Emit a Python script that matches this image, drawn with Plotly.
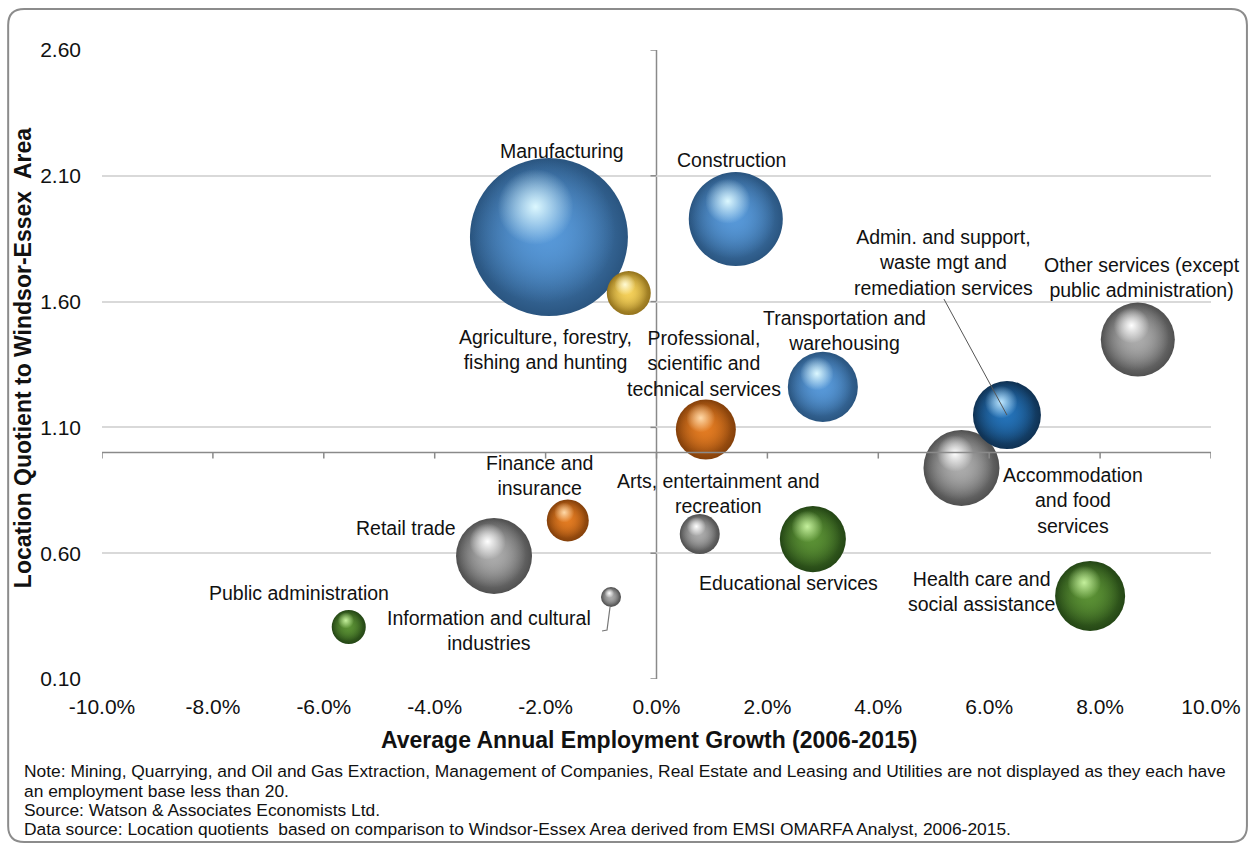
import math
import plotly.graph_objects as go

# Industry data: average annual employment growth (%), location quotient, employment base
industries = [
    "Manufacturing", "Construction", "Retail trade", "Accommodation and food services",
    "Other services (except public administration)", "Transportation and warehousing",
    "Health care and social assistance",
    "Admin. and support, waste mgt and remediation services", "Educational services",
    "Professional, scientific and technical services",
    "Agriculture, forestry, fishing and hunting", "Finance and insurance",
    "Arts, entertainment and recreation", "Public administration",
    "Information and cultural industries",
]
growth = [-1.94, 1.43, -2.93, 5.50, 8.68, 3.00, 7.82, 6.32, 2.82, 0.89, -0.50, -1.60, 0.78, -5.55, -0.82]
location_quotient = [1.857, 1.928, 0.589, 0.939, 1.449, 1.261, 0.430, 1.149, 0.656, 1.092, 1.634, 0.730, 0.676, 0.307, 0.426]
employment = [31200, 11050, 7220, 7220, 6850, 6130, 6130, 5780, 5450, 4500, 2420, 2200, 2000, 1450, 500]
groups = ["blue", "blue", "gray", "gray", "gray", "blue", "green", "navy", "green", "orange",
          "yellow", "orange", "gray", "green", "gray"]

labels = [
    "Manufacturing", "Construction", "Retail trade", "Accommodation<br>and food<br>services",
    "Other services (except<br>public administration)", "Transportation and<br>warehousing",
    "Health care and<br>social assistance", "Admin. and support,<br>waste mgt and<br>remediation services",
    "Educational services", "Professional,<br>scientific and<br>technical services",
    "Agriculture, forestry,<br>fishing and hunting", "Finance and<br>insurance",
    "Arts, entertainment and<br>recreation", "Public administration",
    "Information and cultural<br>industries",
]
# label offsets from each bubble centre, in pixels (right, up)
label_shift = [(13, 86), (-4, 59), (-88, 28), (112, -33), (4, 62), (22, 56), (-109, 4), (-63, 153),
               (-24, -44), (-2, 66), (-83, -56), (-28, 45), (19, 41), (-50, 34), (-122, -34)]

x_ticks = [-10, -8, -6, -4, -2, 0, 2, 4, 6, 8, 10]
y_ticks = [0.10, 0.60, 1.10, 1.60, 2.10, 2.60]

notes = [
    "Note: Mining, Quarrying, and Oil and Gas Extraction, Management of Companies, Real Estate and Leasing and Utilities are not displayed as they each have",
    "an employment base less than 20.",
    "Source: Watson & Associates Economists Ltd.",
    "Data source: Location quotients  based on comparison to Windsor-Essex Area derived from EMSI OMARFA Analyst, 2006-2015.",
]

# palette: (base, light highlight, dark rim)
palette = {
    "blue":   ("#5798d8", "#dcf8ff", "#2a5580"),
    "navy":   ("#2472b8", "#bce6ff", "#0f3152"),
    "gray":   ("#ababab", "#ffffff", "#505050"),
    "green":  ("#5a9034", "#c4f09c", "#244615"),
    "orange": ("#e27b22", "#ffd9a8", "#84400a"),
    "yellow": ("#f4d05a", "#fffad4", "#94731c"),
}

W, H = 1253, 844
M_L, M_R, M_T, M_B = 102, 40, 50, 165
plot_w, plot_h = W - M_L - M_R, H - M_T - M_B
x_rng, y_rng = (-10, 10), (0.10, 2.60)
px_x = plot_w / (x_rng[1] - x_rng[0])
px_y = plot_h / (y_rng[1] - y_rng[0])
max_diam = 158
font_family = "Arial, 'Liberation Sans', sans-serif"


def rgba(hex_color, a):
    h = hex_color.lstrip("#")
    r, g, b = int(h[0:2], 16), int(h[2:4], 16), int(h[4:6], 16)
    return f"rgba({r},{g},{b},{a})"


fig = go.Figure()

for name, gx, lq, emp, grp in zip(industries, growth, location_quotient, employment, groups):
    base, light, dark = palette[grp]
    d = max_diam * math.sqrt(emp / max(employment))
    r = d / 2
    layers = [
        # full sphere: base colour fading to a dark rim
        (0, 0, d, dark, base),
        # body: keeps most of the face evenly lit, shadow stays at the lower right rim
        (-0.07 * r, 0.07 * r, 0.91 * d, rgba(base, 0), rgba(base, 1)),
        # specular highlight towards the upper left
        (-0.17 * r, 0.38 * r, 0.48 * d, rgba(light, 0), rgba(light, 1)),
    ]
    for ox, oy, size, edge, centre in layers:
        fig.add_trace(go.Scatter(
            x=[gx + ox / px_x], y=[lq + oy / px_y], mode="markers", name=name,
            marker=dict(size=size, sizemode="diameter", color=edge, opacity=1,
                        line=dict(width=0),
                        gradient=dict(type="radial", color=centre)),
            hoverinfo="skip", showlegend=False,
        ))

annotations = []
for lab, gx, lq, (sx, sy) in zip(labels, growth, location_quotient, label_shift):
    annotations.append(dict(
        x=gx, y=lq, xref="x", yref="y", text=lab, showarrow=False,
        xshift=sx, yshift=sy, align="center", xanchor="center", yanchor="middle",
        font=dict(family=font_family, size=19.5, color="#111111"),
    ))

# axis titles
annotations.append(dict(
    x=(650 - M_L) / plot_w, y=(H - M_B - 740) / plot_h, xref="paper", yref="paper",
    xanchor="center", yanchor="middle",
    text="<b>Average Annual Employment Growth (2006-2015)</b>", showarrow=False,
    font=dict(family=font_family, size=23, color="#111111"),
))
annotations.append(dict(
    x=(23 - M_L) / plot_w, y=(H - M_B - 358) / plot_h, xref="paper", yref="paper",
    xanchor="center", yanchor="middle",
    text="<b>Location Quotient to Windsor-Essex\u00a0 Area</b>", showarrow=False, textangle=-90,
    font=dict(family=font_family, size=23, color="#111111"),
))
for i, line in enumerate(notes):
    annotations.append(dict(
        x=(22 - M_L) / plot_w, y=(H - M_B - (771 + 19.5 * i)) / plot_h, xref="paper", yref="paper",
        xanchor="left", yanchor="middle", text=line, showarrow=False,
        font=dict(family=font_family, size=17.4, color="#111111"),
    ))

axis_col = "#8a8a8a"
shapes = [
    dict(type="line", xref="paper", yref="y", x0=0, x1=1, y0=1.0, y1=1.0,
         line=dict(color=axis_col, width=1.5), layer="above"),
    dict(type="line", xref="x", yref="paper", x0=0, x1=0, y0=0, y1=1,
         line=dict(color=axis_col, width=1.5), layer="below"),
]
for t in x_ticks:
    shapes.append(dict(type="line", xref="x", yref="y", ysizemode="pixel", yanchor=1.0,
                       x0=t, x1=t, y0=0, y1=-6, line=dict(color=axis_col, width=1.5)))
for t in y_ticks:
    shapes.append(dict(type="line", xref="x", yref="y", xsizemode="pixel", xanchor=0,
                       x0=0, x1=-6, y0=t, y1=t, line=dict(color=axis_col, width=1.5)))

# leader lines for the two labels placed away from their bubbles
i_admin = industries.index("Admin. and support, waste mgt and remediation services")
shapes.append(dict(type="line", xref="x", yref="y", xsizemode="pixel", ysizemode="pixel",
                   xanchor=growth[i_admin], yanchor=location_quotient[i_admin],
                   x0=0, y0=0, x1=-63, y1=116, line=dict(color="#555555", width=1), layer="above"))
i_info = industries.index("Information and cultural industries")
shapes.append(dict(type="path", xref="x", yref="y", xsizemode="pixel", ysizemode="pixel",
                   xanchor=growth[i_info], yanchor=location_quotient[i_info],
                   path="M -1,-10 L -4,-33 L -9,-34", line=dict(color="#777777", width=1.2),
                   layer="above"))

# rounded outer frame
fx0, fy0, fx1, fy1, rad = 8, 9, 1249, 842, 16


def to_paper(px, py):
    return (px - M_L) / plot_w, (H - M_B - py) / plot_h


pts = {
    "a": to_paper(fx0 + rad, fy0), "b": to_paper(fx1 - rad, fy0), "c": to_paper(fx1, fy0),
    "d": to_paper(fx1, fy0 + rad), "e": to_paper(fx1, fy1 - rad), "f": to_paper(fx1, fy1),
    "g": to_paper(fx1 - rad, fy1), "h": to_paper(fx0 + rad, fy1), "i": to_paper(fx0, fy1),
    "j": to_paper(fx0, fy1 - rad), "k": to_paper(fx0, fy0 + rad), "l": to_paper(fx0, fy0),
}
P = {k: f"{v[0]:.5f},{v[1]:.5f}" for k, v in pts.items()}
frame = (f"M {P['a']} L {P['b']} Q {P['c']} {P['d']} L {P['e']} Q {P['f']} {P['g']} "
         f"L {P['h']} Q {P['i']} {P['j']} L {P['k']} Q {P['l']} {P['a']} Z")
shapes.append(dict(type="path", xref="paper", yref="paper", path=frame,
                   line=dict(color="#8c8c8c", width=2), layer="below"))

fig.update_layout(
    width=W, height=H,
    margin=dict(l=M_L, r=M_R, t=M_T, b=M_B),
    paper_bgcolor="white", plot_bgcolor="white",
    font=dict(family=font_family, color="#111111"),
    xaxis=dict(range=list(x_rng), tickvals=x_ticks, ticktext=[f"{t:.1f}%" for t in x_ticks],
               showgrid=False, zeroline=False, showline=False, ticks="",
               ticklabelstandoff=13, tickfont=dict(size=21), fixedrange=True),
    yaxis=dict(range=list(y_rng), tickvals=y_ticks, ticktext=[f"{t:.2f}" for t in y_ticks],
               showgrid=True, gridcolor="#d9d9d9", gridwidth=1.5, zeroline=False, showline=False,
               ticks="", ticklabelstandoff=20, tickfont=dict(size=21), fixedrange=True),
    annotations=annotations, shapes=shapes, hovermode=False,
)

fig.write_html("out.html")
